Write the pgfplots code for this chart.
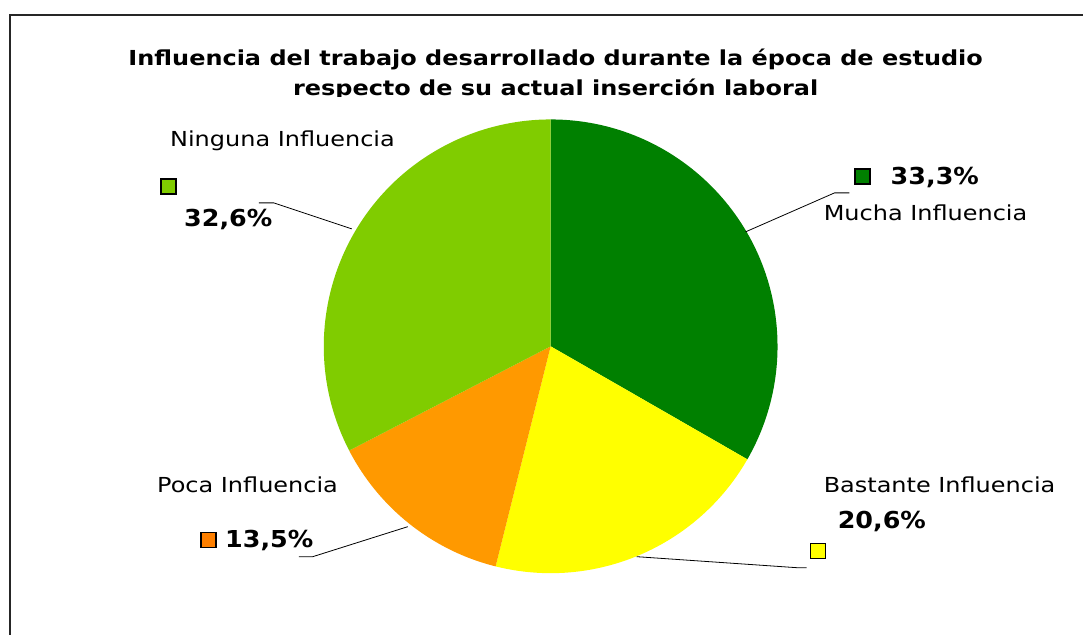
\documentclass[border=0pt]{standalone}
\usepackage{fontspec}
\setmainfont[FakeStretch=1.16]{DejaVu Sans}
\newfontfamily\pctfont[FakeStretch=1.09]{DejaVu Sans}
\usepackage{pgfplots}
\pgfplotsset{compat=1.18}
\usepackage{pgfplotstable}

\definecolor{cMucha}{HTML}{008000}
\definecolor{cBastante}{HTML}{FFFF00}
\definecolor{cPoca}{HTML}{FF9900}
\definecolor{cNinguna}{HTML}{80CC00}
\definecolor{kPoca}{HTML}{FF8000}

\pgfplotstableread{
idx value
0 33.3
1 20.6
2 13.5
3 32.6
}\piedata

\begin{document}
\begin{tikzpicture}
\pgfplotstablegetelem{0}{value}\of\piedata \let\vA\pgfplotsretval
\pgfplotstablegetelem{1}{value}\of\piedata \let\vB\pgfplotsretval
\pgfplotstablegetelem{2}{value}\of\piedata \let\vC\pgfplotsretval
\pgfplotstablegetelem{3}{value}\of\piedata \let\vD\pgfplotsretval
\pgfmathsetmacro{\aA}{90-3.6*\vA}
\pgfmathsetmacro{\aB}{\aA-3.6*\vB}
\pgfmathsetmacro{\aC}{\aB-3.6*\vC}
\pgfmathsetmacro{\aD}{\aC-3.6*\vD}
\def\R{170.25pt}
\begin{axis}[
  at={(0,0)}, anchor=north west,
  scale only axis, width=813pt, height=476.25pt,
  xmin=0, xmax=1084, ymin=0, ymax=635, y dir=reverse,
  hide axis, clip=false]
\path (axis cs:0,0) rectangle (axis cs:1084,635);
% frame
\draw[line width=1pt, black!85] (axis cs:10,635) -- (axis cs:10,15) -- (axis cs:1084,15);
% title
\node[anchor=base, font=\fontsize{15.5}{18}\selectfont\bfseries] at (axis cs:556,66)
  {Influencia del trabajo desarrollado durante la época de estudio};
\node[anchor=base, font=\fontsize{15.5}{18}\selectfont\bfseries] at (axis cs:556,96)
  {respecto de su actual inserción laboral};
\fill[white] (axis cs:280,97.5) rectangle (axis cs:840,112);
% pie
\fill[cMucha] (axis cs:551,346.5) -- ++(90:\R) arc[start angle=90, end angle=\aA, radius=\R] -- cycle;
\fill[cBastante] (axis cs:551,346.5) -- ++(\aA:\R) arc[start angle=\aA, end angle=\aB, radius=\R] -- cycle;
\fill[cPoca] (axis cs:551,346.5) -- ++(\aB:\R) arc[start angle=\aB, end angle=\aC, radius=\R] -- cycle;
\fill[cNinguna] (axis cs:551,346.5) -- ++(\aC:\R) arc[start angle=\aC, end angle=\aD, radius=\R] -- cycle;
% leader lines
\draw[line width=0.6pt] (axis cs:259,203) -- (axis cs:274,203) -- (axis cs:352,229);
\draw[line width=0.6pt] (axis cs:850,193) -- (axis cs:835,193) -- (axis cs:746,232);
\draw[line width=0.6pt] (axis cs:299,557) -- (axis cs:313,557) -- (axis cs:408,527);
\draw[line width=0.6pt] (axis cs:637,557) -- (axis cs:797,568) -- (axis cs:807,568);
% legend keys
\filldraw[fill=cNinguna, draw=black, line width=1pt] (axis cs:161,179) rectangle (axis cs:176,194);
\filldraw[fill=cMucha, draw=black, line width=1pt] (axis cs:855.5,169) rectangle (axis cs:870.5,184);
\filldraw[fill=kPoca, draw=black, line width=1pt] (axis cs:201,533) rectangle (axis cs:216,548);
\filldraw[fill=cBastante, draw=black, line width=1pt] (axis cs:811,544) rectangle (axis cs:826,559);
% labels
\node[anchor=base west, inner sep=0pt, font=\fontsize{15.5}{18}\selectfont] at (axis cs:170,147) {Ninguna Influencia};
\node[anchor=base west, inner sep=0pt, font=\fontsize{17.5}{20}\pctfont\bfseries] at (axis cs:184,227) {32,6\%};
\node[anchor=base west, inner sep=0pt, font=\fontsize{17.5}{20}\pctfont\bfseries] at (axis cs:891,185) {33,3\%};
\node[anchor=base west, inner sep=0pt, font=\fontsize{15.5}{18}\selectfont] at (axis cs:824,221) {Mucha Influencia};
\node[anchor=base west, inner sep=0pt, font=\fontsize{15.5}{18}\selectfont] at (axis cs:157,493) {Poca Influencia};
\node[anchor=base west, inner sep=0pt, font=\fontsize{17.5}{20}\pctfont\bfseries] at (axis cs:225,548) {13,5\%};
\node[anchor=base west, inner sep=0pt, font=\fontsize{15.5}{18}\selectfont] at (axis cs:824,493) {Bastante Influencia};
\node[anchor=base west, inner sep=0pt, font=\fontsize{17.5}{20}\pctfont\bfseries] at (axis cs:838,529) {20,6\%};
\end{axis}
\end{tikzpicture}
\end{document}
